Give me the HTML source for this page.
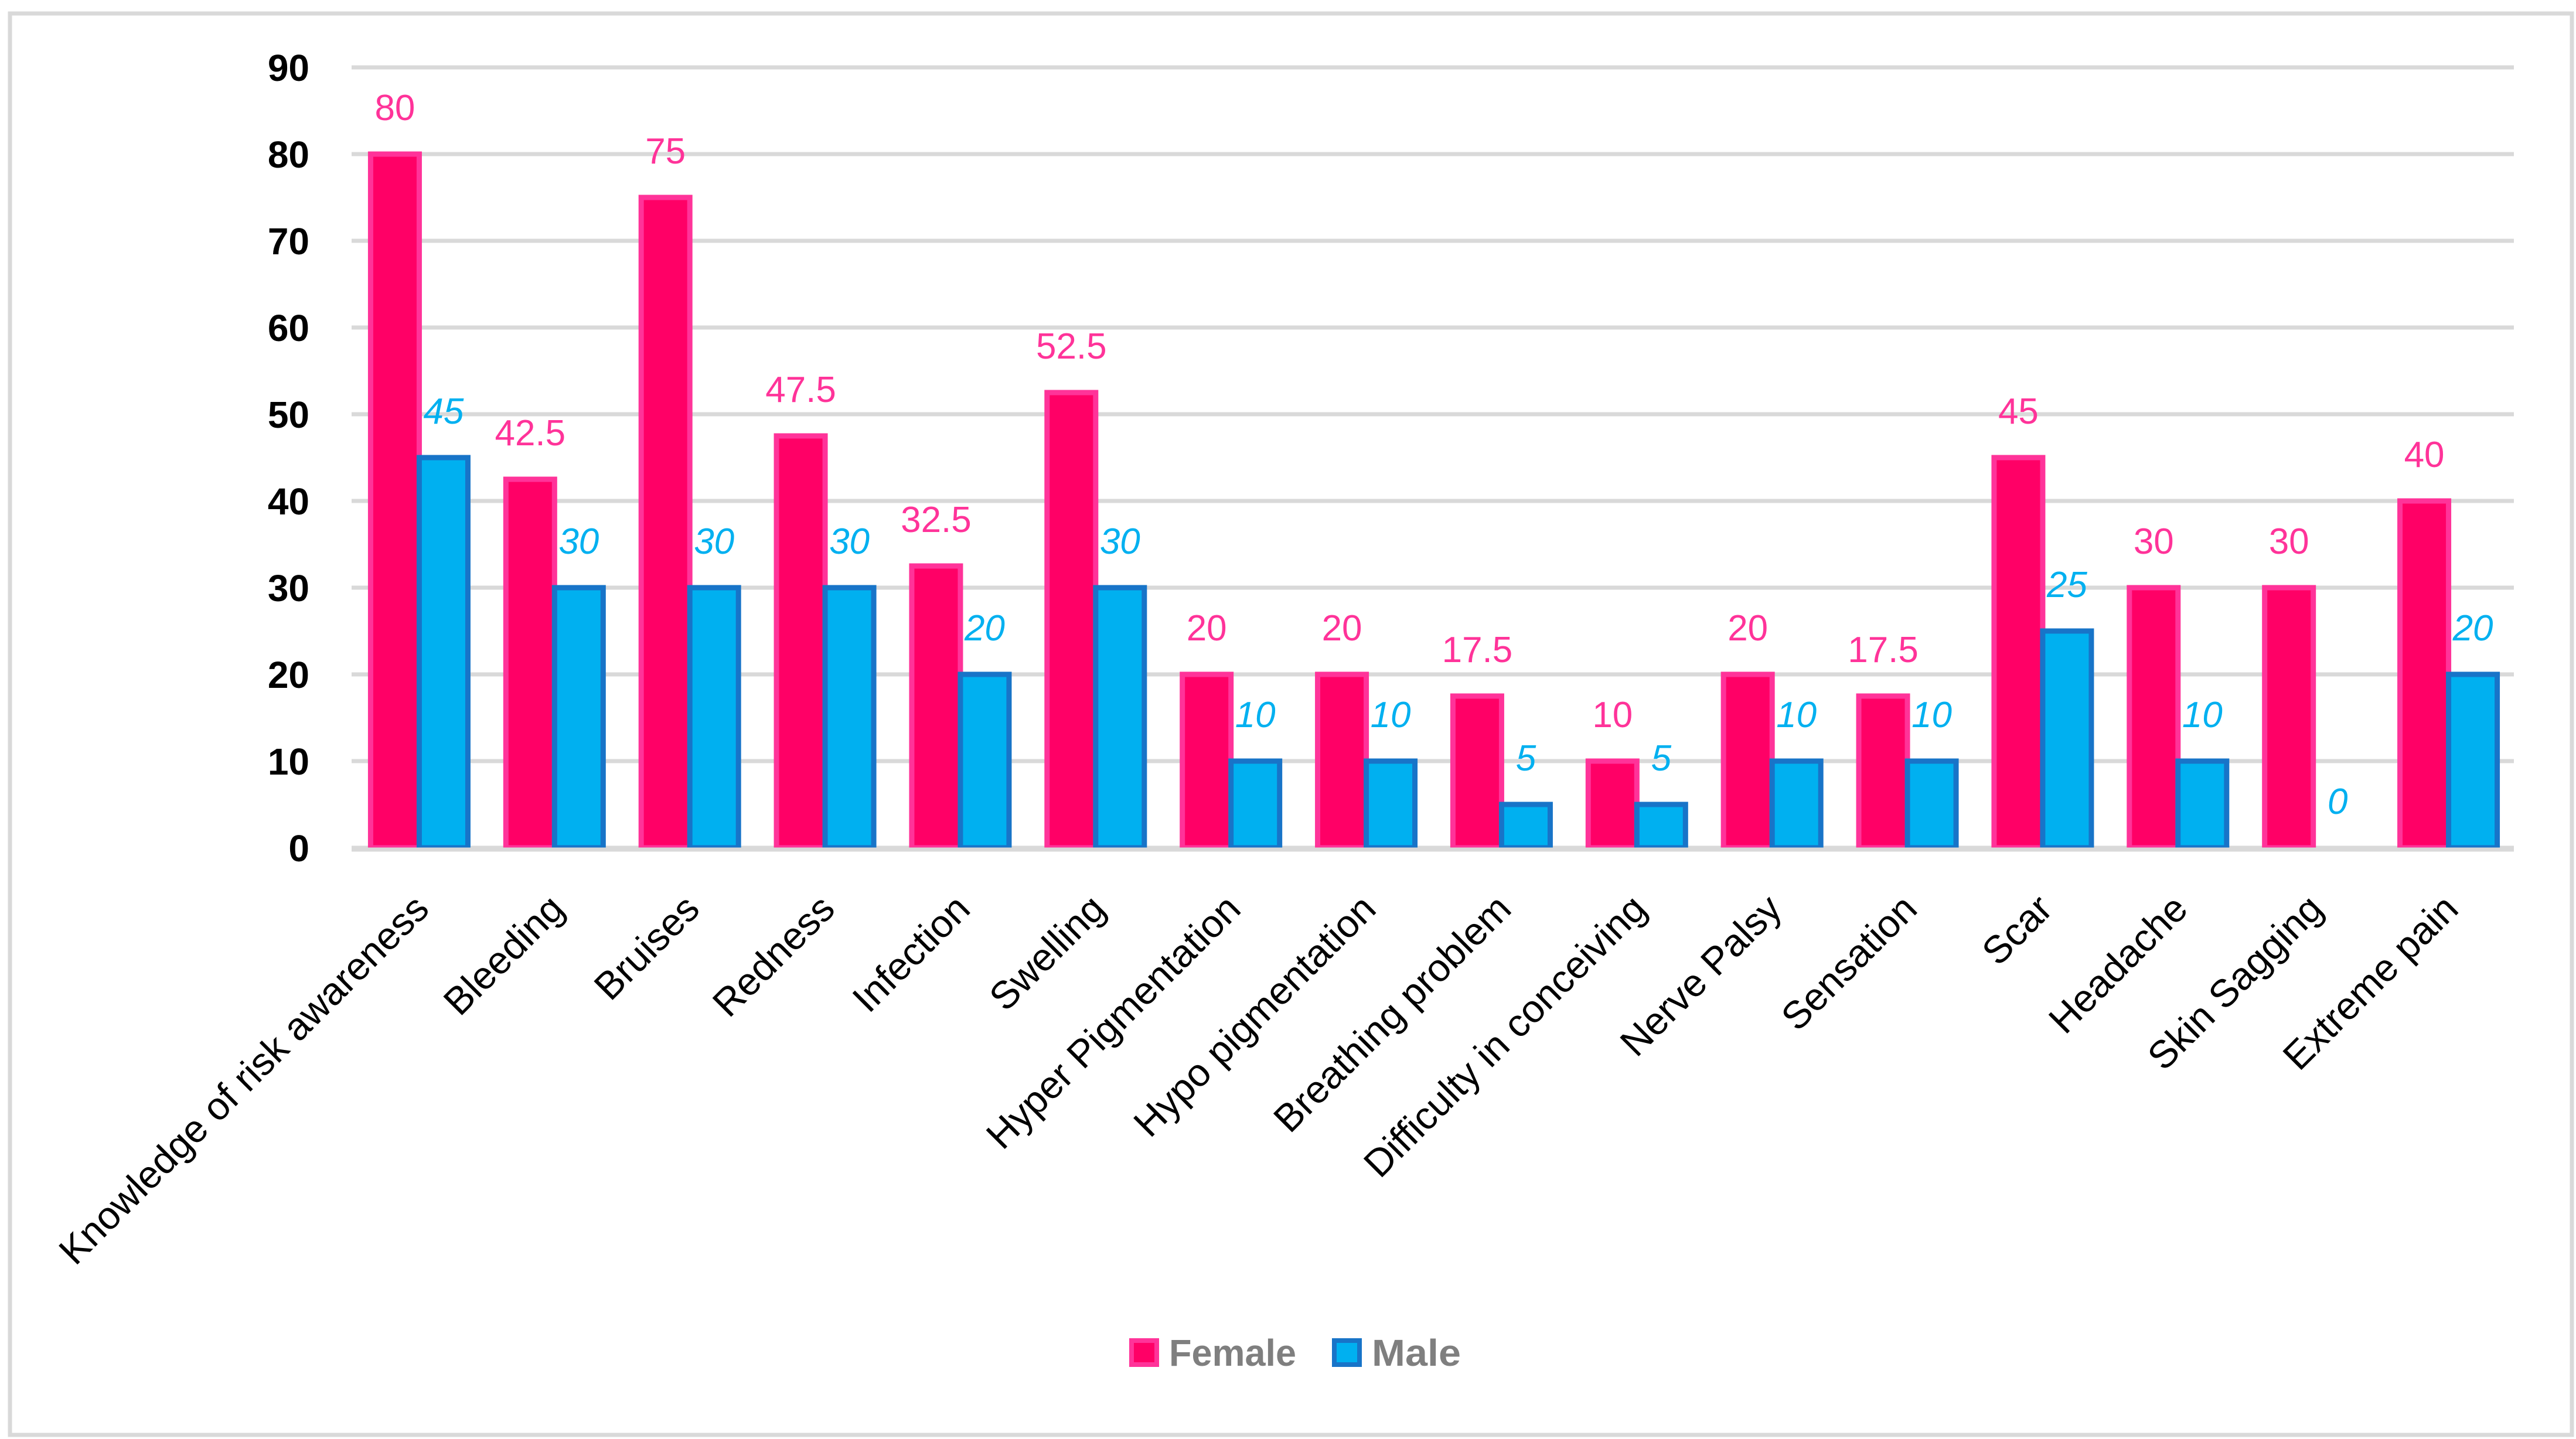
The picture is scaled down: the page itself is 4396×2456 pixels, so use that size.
<!DOCTYPE html>
<html><head><meta charset="utf-8"><style>
html,body{margin:0;padding:0;background:#fff;}
svg{display:block;}
</style></head><body>
<svg id="chart" width="4396" height="2456" viewBox="0 0 4396 2456" xmlns="http://www.w3.org/2000/svg">
<rect x="17" y="23" width="4372" height="2426" fill="#fff" stroke="#D9D9D9" stroke-width="7"/>
<g id="grid"></g>
<g id="yticks"></g>
<g id="bars"></g>
<g id="vlabels"></g>
<g id="xlabels"></g>
<g>
  <g>
    <rect x="1931" y="2288" width="43" height="41" fill="#FF0066" stroke="#FF3399" stroke-width="8"/>
    <text x="1995" y="2331" font-family="Liberation Sans, sans-serif" font-weight="bold" font-size="64" fill="#7F7F7F" textLength="217" lengthAdjust="spacingAndGlyphs">Female</text>
  </g>
  <g>
    <rect x="2277" y="2288" width="43" height="41" fill="#00B0F0" stroke="#1874C8" stroke-width="8"/>
    <text x="2341" y="2331" font-family="Liberation Sans, sans-serif" font-weight="bold" font-size="64" fill="#7F7F7F" textLength="152" lengthAdjust="spacingAndGlyphs">Male</text>
  </g>
</g>
</svg>
<script>
const categories = ["Knowledge of risk awareness","Bleeding","Bruises","Redness","Infection","Swelling","Hyper Pigmentation","Hypo pigmentation","Breathing problem","Difficulty in conceiving","Nerve Palsy","Sensation","Scar","Headache","Skin Sagging","Extreme pain"];
const female = [80,42.5,75,47.5,32.5,52.5,20,20,17.5,10,20,17.5,45,30,30,40];
const male = [45,30,30,30,20,30,10,10,5,5,10,10,25,10,0,20];
const yTicks = [0,10,20,30,40,50,60,70,80,90];

const NS = "http://www.w3.org/2000/svg";
const X0 = 600, X1 = 4294, GRID_END = 4290, Y0 = 1447, PER = 14.8;
const STEP = (X1 - X0) / categories.length;
const BW = 83;
function yScale(v){ return Y0 - v * PER; }
function groupCenter(i){ return X0 + STEP * i + STEP / 2; }
function mk(tag, attrs, parent){ const e = document.createElementNS(NS, tag); for (const k in attrs) e.setAttribute(k, attrs[k]); parent.appendChild(e); return e; }

const grid = document.getElementById('grid');
const yt = document.getElementById('yticks');
yTicks.forEach(t => {
  const l = mk('line', {x1: X0, x2: GRID_END, y1: yScale(t), y2: yScale(t), stroke: '#D9D9D9', 'stroke-width': 7}, grid);
  
  
  const tx = mk('text', {x: 528, y: yScale(t) + 23, 'text-anchor': 'end', 'font-family': 'Liberation Sans, sans-serif', 'font-weight': 'bold', 'font-size': 64, fill: '#000'}, yt);
  tx.textContent = t;
  
  
});

const bars = document.getElementById('bars');
const vl = document.getElementById('vlabels');
const xl = document.getElementById('xlabels');
categories.forEach((c, i) => {
  const gc = groupCenter(i);
  const fTop = yScale(female[i]);
  const fb = mk('rect', {x: gc - BW, y: fTop, width: BW, height: Y0 - fTop, fill: '#FF0066', stroke: '#FF3399', 'stroke-width': 9}, bars);
  
  
  if (male[i] > 0) {
    const mTop = yScale(male[i]);
    const mb = mk('rect', {x: gc, y: mTop, width: BW, height: Y0 - mTop, fill: '#00B0F0', stroke: '#1874C8', 'stroke-width': 9}, bars);
    
    
  }
  const ft = mk('text', {x: gc - BW / 2, y: fTop - 58, 'text-anchor': 'middle', 'font-family': 'Liberation Sans, sans-serif', 'font-size': 62, fill: '#FF3399'}, vl);
  ft.textContent = female[i];
  
  
  const mt = mk('text', {x: gc + BW / 2, y: yScale(male[i]) - 58, 'text-anchor': 'middle', 'font-family': 'Liberation Sans, sans-serif', 'font-style': 'italic', 'font-size': 62, fill: '#00B0F0'}, vl);
  mt.textContent = male[i];
  
  
  const lx = gc + 20, ly = 1555;
  const lt = mk('text', {x: lx, y: ly, transform: 'rotate(-45 ' + lx + ' ' + ly + ')', 'text-anchor': 'end', 'font-family': 'Liberation Sans, sans-serif', 'font-size': 66, fill: '#000'}, xl);
  lt.textContent = c;
  
  
});
mk('line', {x1: X0, x2: GRID_END, y1: Y0 + 3, y2: Y0 + 3, stroke: '#D9D9D9', 'stroke-width': 7}, bars);
</script>
</body></html>
